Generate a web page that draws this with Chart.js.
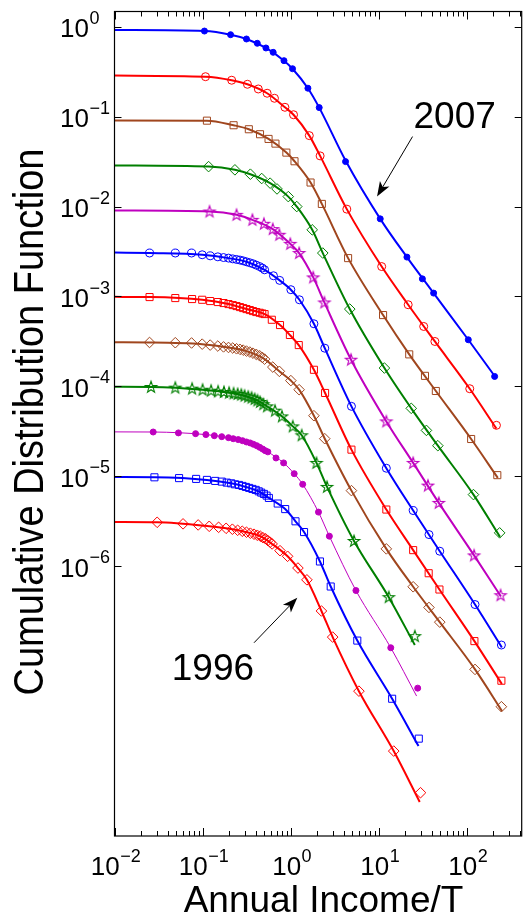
<!DOCTYPE html>
<html>
<head>
<meta charset="utf-8">
<script src="https://cdn.jsdelivr.net/npm/chart.js@4.4.1/dist/chart.umd.min.js"></script>
<style>
  html, body { margin: 0; padding: 0; background: #fff; }
  canvas { display: block; }
</style>
</head>
<body>
<canvas id="cdfChart" width="528" height="915"></canvas>
<script>
// income / T and CDF values, one set per year (top curve = 2007)
const income2007 = [0.105, 0.208, 0.315, 0.418, 0.524, 0.633, 0.84, 1.05, 1.57, 2.11, 4.2, 10.4, 20.9, 31.3, 42, 104, 207];
const cdf2007 = [0.895, 0.815, 0.73, 0.654, 0.58, 0.519, 0.419, 0.341, 0.207, 0.126, 0.0316, 0.0073, 0.00274, 0.00157, 0.00109, 0.00033, 0.000129];
const fitIncome2007 = [0.01, 0.105, 0.208, 0.315, 0.524, 0.84, 1.05, 1.57, 2.11, 4.2, 10.4, 20.9, 42, 104, 215];
const fitCdf2007 = [0.92, 0.895, 0.815, 0.73, 0.58, 0.419, 0.341, 0.207, 0.126, 0.0325, 0.0073, 0.00274, 0.00109, 0.00033, 0.000124];

const income2006 = [0.108, 0.214, 0.323, 0.429, 0.541, 0.655, 0.861, 1.078, 1.628, 2.16, 4.34, 10.8, 21.6, 32.4, 43.4, 108, 217];
const cdf2006 = [0.278, 0.254, 0.229, 0.203, 0.182, 0.16, 0.127, 0.105, 0.0615, 0.0366, 0.00936, 0.00215, 0.000809, 0.000464, 0.000316, 9.42e-5, 3.69e-5];
const fitIncome2006 = [0.01, 0.108, 0.214, 0.323, 0.541, 0.861, 1.078, 1.628, 2.16, 4.34, 10.8, 21.6, 43.4, 108, 217];
const fitCdf2006 = [0.286, 0.278, 0.254, 0.229, 0.182, 0.127, 0.105, 0.0615, 0.0366, 0.00936, 0.00215, 0.000809, 0.000316, 9.42e-5, 3.39e-5];

const income2005 = [0.112, 0.225, 0.335, 0.449, 0.561, 0.672, 0.894, 1.106, 1.683, 2.26, 4.49, 11.2, 22.2, 33.5, 44.5, 112, 222];
const cdf2005 = [0.0902, 0.0802, 0.0724, 0.0637, 0.0565, 0.0501, 0.0398, 0.0319, 0.0185, 0.0107, 0.00267, 0.000621, 0.000227, 0.000131, 8.89e-5, 2.6e-5, 1.03e-5];
const fitIncome2005 = [0.01, 0.112, 0.225, 0.335, 0.561, 0.894, 1.106, 1.683, 2.26, 4.49, 11.2, 22.2, 44.5, 112, 225];
const fitCdf2005 = [0.0905, 0.0902, 0.0802, 0.0724, 0.0565, 0.0398, 0.0319, 0.0185, 0.0107, 0.00267, 0.000621, 0.000227, 8.89e-5, 2.6e-5, 9.6e-6];

const income2004 = [0.117, 0.233, 0.349, 0.469, 0.585, 0.7, 0.94, 1.173, 1.758, 2.317, 4.69, 11.6, 23.4, 34.8, 46.9, 119, 236];
const cdf2004 = [0.0278, 0.0256, 0.0229, 0.0205, 0.0182, 0.0157, 0.0129, 0.01, 0.00551, 0.00304, 0.000724, 0.00016, 5.7e-5, 3.24e-5, 2.19e-5, 6.26e-6, 2.35e-6];
const fitIncome2004 = [0.01, 0.117, 0.233, 0.349, 0.585, 0.94, 1.173, 1.758, 2.317, 4.69, 11.6, 23.4, 46.9, 119, 238];
const fitCdf2004 = [0.0286, 0.0278, 0.0256, 0.0229, 0.0182, 0.0129, 0.01, 0.00551, 0.00304, 0.000724, 0.00016, 5.7e-5, 2.19e-5, 6.26e-6, 2.12e-6];

const income2003 = [0.12, 0.243, 0.368, 0.497, 0.627, 0.744, 0.99, 1.248, 1.805, 2.415, 4.85, 12.2, 24.6, 36.2, 48.1, 121, 242];
const cdf2003 = [0.0088, 0.00809, 0.00712, 0.00643, 0.00561, 0.00485, 0.00385, 0.00304, 0.00163, 0.000858, 0.000198, 4.08e-5, 1.41e-5, 7.88e-6, 5.06e-6, 1.32e-6, 4.76e-7];
const fitIncome2003 = [0.01, 0.12, 0.243, 0.368, 0.627, 0.99, 1.248, 1.805, 2.415, 4.85, 12.2, 24.6, 48.1, 121, 244];
const fitCdf2003 = [0.00903, 0.0088, 0.00809, 0.00712, 0.00561, 0.00385, 0.00304, 0.00163, 0.000858, 0.000198, 4.08e-5, 1.41e-5, 5.06e-6, 1.32e-6, 4.6e-7];

const income2002 = [0.025, 0.049, 0.075, 0.099, 0.122, 0.149, 0.173, 0.197, 0.22, 0.243, 0.266, 0.289, 0.315, 0.344, 0.374, 0.407, 0.445, 0.476, 0.506, 0.638, 0.751, 1.005, 1.258, 1.837, 2.44, 4.9, 12.2, 24.6, 37.2, 49.3, 124, 247];
const cdf2002 = [0.00304, 0.00304, 0.00304, 0.00291, 0.00283, 0.00276, 0.00271, 0.00267, 0.00262, 0.00258, 0.00254, 0.00249, 0.00243, 0.00237, 0.00231, 0.00223, 0.00215, 0.00207, 0.00198, 0.0017, 0.00151, 0.00119, 0.000919, 0.000497, 0.000266, 6e-5, 1.23e-5, 4.16e-6, 2.25e-6, 1.47e-6, 3.75e-7, 1.33e-7];
const fitIncome2002 = [0.01, 0.025, 0.099, 0.197, 0.315, 0.506, 0.751, 1.005, 1.258, 1.837, 2.44, 4.9, 12.2, 24.6, 49.3, 124, 250];
const fitCdf2002 = [0.00308, 0.00304, 0.00291, 0.00267, 0.00243, 0.00198, 0.00151, 0.00119, 0.000919, 0.000497, 0.000266, 6e-5, 1.23e-5, 4.16e-6, 1.47e-6, 3.75e-7, 1.25e-7];

const income2001 = [0.025, 0.049, 0.076, 0.099, 0.122, 0.149, 0.173, 0.197, 0.22, 0.243, 0.266, 0.289, 0.315, 0.344, 0.374, 0.407, 0.445, 0.476, 0.506, 0.611, 0.757, 0.98, 1.236, 1.837, 2.46, 4.9, 12.2, 24.6, 36.9, 48.9, 122, 247];
const cdf2001 = [0.000985, 0.00096, 0.000936, 0.000919, 0.000889, 0.000867, 0.000845, 0.000823, 0.000802, 0.000782, 0.000762, 0.000743, 0.000724, 0.000706, 0.000688, 0.000671, 0.000659, 0.000647, 0.000637, 0.000551, 0.000481, 0.000373, 0.000288, 0.000153, 8.45e-5, 1.98e-5, 4.27e-6, 1.51e-6, 8.36e-7, 5.51e-7, 1.47e-7, 5.33e-8];
const fitIncome2001 = [0.01, 0.025, 0.099, 0.197, 0.315, 0.506, 0.757, 0.98, 1.236, 1.837, 2.46, 4.9, 12.2, 24.6, 48.9, 122, 250];
const fitCdf2001 = [0.00099, 0.000985, 0.000919, 0.000823, 0.000724, 0.000637, 0.000481, 0.000373, 0.000288, 0.000153, 8.45e-5, 1.98e-5, 4.27e-6, 1.51e-6, 5.51e-7, 1.47e-7, 4.9e-8];

const income2000 = [0.025, 0.049, 0.075, 0.099, 0.122, 0.149, 0.173, 0.197, 0.22, 0.243, 0.266, 0.289, 0.315, 0.344, 0.374, 0.407, 0.445, 0.476, 0.506, 0.627, 0.744, 1.005, 1.248, 1.837, 2.44, 4.9, 12.2, 24.6, 37.2, 49.3, 124, 247];
const cdf2000 = [0.000308, 0.000306, 0.000304, 0.000295, 0.000288, 0.000281, 0.000275, 0.000271, 0.000267, 0.000262, 0.000258, 0.000253, 0.000247, 0.000241, 0.000234, 0.000227, 0.000219, 0.00021, 0.000201, 0.000164, 0.000147, 0.000116, 9.19e-5, 4.72e-5, 2.62e-5, 6.93e-6, 1.56e-6, 5.91e-7, 3.48e-7, 2.39e-7, 7.12e-8, 2.74e-8];
const fitIncome2000 = [0.01, 0.025, 0.099, 0.197, 0.315, 0.506, 0.744, 1.005, 1.248, 1.837, 2.44, 4.9, 12.2, 24.6, 49.3, 124, 251];
const fitCdf2000 = [0.000309, 0.000308, 0.000295, 0.000271, 0.000247, 0.000201, 0.000147, 0.000116, 9.19e-5, 4.72e-5, 2.62e-5, 6.93e-6, 1.56e-6, 5.91e-7, 2.39e-7, 7.12e-8, 2.45e-8];

const income1999 = [0.026, 0.049, 0.076, 0.1, 0.125, 0.15, 0.175, 0.2, 0.225, 0.25, 0.275, 0.3, 0.33, 0.36, 0.39, 0.42, 0.45, 0.49, 0.54, 0.665, 0.797, 1.058, 1.335, 1.965, 2.59, 5.24, 13, 25.7];
const cdf1999 = [9.85e-5, 9.68e-5, 9.43e-5, 9.19e-5, 8.96e-5, 8.8e-5, 8.67e-5, 8.51e-5, 8.36e-5, 8.24e-5, 8.09e-5, 7.88e-5, 7.68e-5, 7.49e-5, 7.24e-5, 6.99e-5, 6.71e-5, 6.34e-5, 6e-5, 5.37e-5, 4.64e-5, 3.59e-5, 2.86e-5, 1.41e-5, 7.62e-6, 1.91e-6, 4.53e-7, 1.67e-7];
const fitIncome1999 = [0.01, 0.026, 0.1, 0.2, 0.3, 0.42, 0.54, 0.797, 1.058, 1.335, 1.965, 2.59, 5.24, 13, 25.7];
const fitCdf1999 = [9.9e-5, 9.85e-5, 9.19e-5, 8.51e-5, 7.88e-5, 6.99e-5, 6e-5, 4.64e-5, 3.59e-5, 2.86e-5, 1.41e-5, 7.62e-6, 1.91e-6, 4.53e-7, 1.33e-7];

const income1998 = [0.0275, 0.0532, 0.0833, 0.109, 0.136, 0.165, 0.197, 0.223, 0.254, 0.284, 0.315, 0.347, 0.378, 0.412, 0.445, 0.481, 0.514, 0.551, 0.682, 0.832, 1.097, 1.37, 2.07, 2.75, 5.51, 13.7, 27.7];
const cdf1998 = [3.11e-5, 3.04e-5, 2.98e-5, 2.91e-5, 2.83e-5, 2.76e-5, 2.69e-5, 2.62e-5, 2.56e-5, 2.49e-5, 2.41e-5, 2.35e-5, 2.27e-5, 2.19e-5, 2.1e-5, 2.01e-5, 1.93e-5, 1.87e-5, 1.6e-5, 1.41e-5, 1.07e-5, 8.15e-6, 4e-6, 2.16e-6, 5.37e-7, 1.24e-7, 4.41e-8];
const fitIncome1998 = [0.01, 0.0275, 0.109, 0.197, 0.315, 0.445, 0.551, 0.832, 1.097, 1.37, 2.07, 2.75, 5.51, 13.7, 26.9];
const fitCdf1998 = [3.12e-5, 3.11e-5, 2.91e-5, 2.69e-5, 2.41e-5, 2.1e-5, 1.87e-5, 1.41e-5, 1.07e-5, 8.15e-6, 4e-6, 2.16e-6, 5.37e-7, 1.24e-7, 3.6e-8];

const income1997 = [0.0284, 0.0541, 0.0845, 0.112, 0.139, 0.165, 0.188, 0.211, 0.233, 0.259, 0.284, 0.31, 0.338, 0.368, 0.401, 0.434, 0.463, 0.497, 0.533, 0.566, 0.713, 0.867, 1.135, 1.419, 2.15, 2.85, 5.71, 14.2, 28.5];
const cdf1997 = [9.75e-6, 9.55e-6, 9.36e-6, 9.12e-6, 8.89e-6, 8.73e-6, 8.51e-6, 8.36e-6, 8.15e-6, 8.02e-6, 7.82e-6, 7.62e-6, 7.43e-6, 7.24e-6, 7.06e-6, 6.81e-6, 6.59e-6, 6.37e-6, 6.1e-6, 5.75e-6, 4.98e-6, 4.32e-6, 3.16e-6, 2.4e-6, 1.13e-6, 5.95e-7, 1.49e-7, 3.36e-8, 1.21e-8];
const fitIncome1997 = [0.01, 0.0284, 0.112, 0.211, 0.31, 0.434, 0.566, 0.867, 1.135, 1.419, 2.15, 2.85, 5.71, 14.2, 28.3];
const fitCdf1997 = [9.8e-6, 9.75e-6, 9.12e-6, 8.36e-6, 7.62e-6, 6.81e-6, 5.75e-6, 4.32e-6, 3.16e-6, 2.4e-6, 1.13e-6, 5.95e-7, 1.49e-7, 3.36e-8, 1e-8];

const income1996 = [0.0305, 0.06, 0.0891, 0.119, 0.152, 0.185, 0.218, 0.25, 0.282, 0.315, 0.349, 0.384, 0.418, 0.452, 0.484, 0.519, 0.551, 0.585, 0.616, 0.757, 0.923, 1.21, 1.53, 2.236, 3, 5.96, 14.8, 29.8];
const cdf1996 = [3.08e-6, 2.96e-6, 2.88e-6, 2.78e-6, 2.71e-6, 2.64e-6, 2.58e-6, 2.51e-6, 2.45e-6, 2.39e-6, 2.33e-6, 2.27e-6, 2.21e-6, 2.16e-6, 2.08e-6, 2.02e-6, 1.93e-6, 1.85e-6, 1.77e-6, 1.49e-6, 1.29e-6, 9.55e-7, 7.06e-7, 3.18e-7, 1.63e-7, 4.08e-8, 8.8e-9, 3.03e-9];
const fitIncome1996 = [0.01, 0.0305, 0.119, 0.218, 0.315, 0.452, 0.616, 0.923, 1.21, 1.53, 2.236, 3, 5.96, 14.8, 29.2];
const fitCdf1996 = [3.1e-6, 3.08e-6, 2.78e-6, 2.58e-6, 2.39e-6, 2.16e-6, 1.77e-6, 1.29e-6, 9.55e-7, 7.06e-7, 3.18e-7, 1.63e-7, 4.08e-8, 8.8e-9, 2.39e-9];

// tick exponents shown as 10^n
const xTickExps = [-2, -1, 0, 1, 2];
const yTickExps = [0, -1, -2, -3, -4, -5, -6];

const BLUE = "#0000ff", RED = "#ff0000", BROWN = "#a0461e", GREEN = "#007f00", MAGENTA = "#bf00bf";
const FONT = '"Liberation Sans", Arial, Helvetica, sans-serif';

function starImage(color) {
  const c = document.createElement("canvas");
  c.width = 16;
  c.height = 16;
  const g = c.getContext("2d");
  g.strokeStyle = color;
  g.lineWidth = 1.1;
  g.beginPath();
  for (let i = 0; i < 10; i++) {
    const r = i % 2 ? 2.4 : 6;
    const a = -Math.PI / 2 + (i * Math.PI) / 5;
    const px = 8 + r * Math.cos(a);
    const py = 8.3 + r * Math.sin(a);
    if (i) g.lineTo(px, py);
    else g.moveTo(px, py);
  }
  g.closePath();
  g.stroke();
  return c;
}

function points(xs, ys) {
  return xs.map((x, i) => ({ x, y: ys[i] }));
}

// [markers x, markers y, fit x, fit y, colour, marker, filled, line width]
const seriesList = [
  [income2007, cdf2007, fitIncome2007, fitCdf2007, BLUE, "circle", true, 2],
  [income2006, cdf2006, fitIncome2006, fitCdf2006, RED, "circle", false, 2],
  [income2005, cdf2005, fitIncome2005, fitCdf2005, BROWN, "rect", false, 2],
  [income2004, cdf2004, fitIncome2004, fitCdf2004, GREEN, "rectRot", false, 2],
  [income2003, cdf2003, fitIncome2003, fitCdf2003, MAGENTA, "star", false, 2],
  [income2002, cdf2002, fitIncome2002, fitCdf2002, BLUE, "circle", false, 2],
  [income2001, cdf2001, fitIncome2001, fitCdf2001, RED, "rect", false, 2],
  [income2000, cdf2000, fitIncome2000, fitCdf2000, BROWN, "rectRot", false, 2],
  [income1999, cdf1999, fitIncome1999, fitCdf1999, GREEN, "star", false, 2],
  [income1998, cdf1998, fitIncome1998, fitCdf1998, MAGENTA, "circle", true, 1],
  [income1997, cdf1997, fitIncome1997, fitCdf1997, BLUE, "rect", false, 2],
  [income1996, cdf1996, fitIncome1996, fitCdf1996, RED, "rectRot", false, 2],
];

const markerRadius = { circle: 4, rect: 5, rectRot: 5.3, star: 5 };

const datasets = [];
seriesList.forEach(([mx, my, fx, fy, color, marker, filled, lw]) => {
  datasets.push({
    data: points(fx, fy),
    showLine: true,
    borderColor: color,
    borderWidth: lw,
    pointRadius: 0,
    cubicInterpolationMode: "monotone",
    order: 2,
  });
  datasets.push({
    data: points(mx, my),
    showLine: false,
    pointStyle: marker === "star" ? starImage(color) : marker,
    pointRadius: filled ? 3 : markerRadius[marker],
    pointBorderWidth: 1,
    pointBorderColor: color,
    pointBackgroundColor: filled ? color : "rgba(0,0,0,0)",
    order: 1,
  });
});

// annotations in data units: [text, text x, text baseline y, arrow tail x, tail y, tip x, tip y]
const notes = [
  ["2007", 72.8, 0.0743, 24.2, 0.06, 9.57, 0.0129],
  ["1996", 0.131, 5.5e-8, 0.384, 1.41e-7, 1.19, 4.46e-7],
];

function drawPow(ctx, x, baseY, exp, align) {
  const base = "10";
  const sup = exp < 0 ? "\u2212" + Math.abs(exp) : String(exp);
  ctx.font = "26px " + FONT;
  const wb = ctx.measureText(base).width;
  ctx.font = "18px " + FONT;
  const ws = ctx.measureText(sup).width;
  const left = align === "center" ? x - (wb + ws) / 2 : x;
  ctx.font = "26px " + FONT;
  ctx.fillText(base, left, baseY);
  ctx.font = "18px " + FONT;
  ctx.fillText(sup, left + wb + 0.5, baseY - 13.5);
}

const axesPlugin = {
  id: "matlabAxes",
  beforeDraw(chart) {
    const { ctx } = chart;
    ctx.save();
    ctx.fillStyle = "#fff";
    ctx.fillRect(0, 0, chart.width, chart.height);
    ctx.restore();
  },
  afterDraw(chart) {
    const { ctx, chartArea: a, scales } = chart;
    const xs = scales.x, ys = scales.y;
    ctx.save();
    ctx.strokeStyle = "#000";
    ctx.lineWidth = 1;
    ctx.beginPath();
    // x ticks, major and minor, pointing inward from top and bottom
    for (let e = -2; e <= 2; e++) {
      for (let m = 1; m <= 9; m++) {
        const v = m * Math.pow(10, e);
        if (v > xs.max) break;
        const px = Math.round(xs.getPixelForValue(v)) + 0.5;
        const len = m === 1 ? 8 : 5;
        ctx.moveTo(px, a.bottom);
        ctx.lineTo(px, a.bottom - len);
        ctx.moveTo(px, a.top);
        ctx.lineTo(px, a.top + len);
      }
    }
    // y ticks at decades only
    yTickExps.forEach((e) => {
      const py = Math.round(ys.getPixelForValue(Math.pow(10, e))) + 0.5;
      ctx.moveTo(a.left, py);
      ctx.lineTo(a.left + 7, py);
      ctx.moveTo(a.right, py);
      ctx.lineTo(a.right - 7, py);
    });
    ctx.stroke();
    ctx.lineWidth = 1.2;
    ctx.strokeRect(a.left, a.top, a.right - a.left, a.bottom - a.top);

    // tick labels
    ctx.fillStyle = "#000";
    ctx.textBaseline = "alphabetic";
    ctx.textAlign = "left";
    xTickExps.forEach((e) => {
      drawPow(ctx, xs.getPixelForValue(Math.pow(10, e)) + 1, a.bottom + 39, e, "center");
    });
    yTickExps.forEach((e) => {
      drawPow(ctx, a.left - 54.5, ys.getPixelForValue(Math.pow(10, e)) + 10.6, e, "left");
    });

    // axis titles
    ctx.textAlign = "center";
    ctx.font = "37px " + FONT;
    ctx.fillText("Annual Income/T", 323.5, 911.5);
    ctx.save();
    ctx.translate(42.5, 422);
    ctx.rotate(-Math.PI / 2);
    ctx.scale(1, 1.1);
    ctx.font = "38px " + FONT;
    ctx.fillText("Cumulative Distribution Function", 0, 0);
    ctx.restore();

    // year labels with arrows
    notes.forEach(([text, tx, ty, ax, ay, bx, by]) => {
      ctx.font = "37px " + FONT;
      ctx.textAlign = "center";
      ctx.fillText(text, xs.getPixelForValue(tx), ys.getPixelForValue(ty));
      const x0 = xs.getPixelForValue(ax), y0 = ys.getPixelForValue(ay);
      const x1 = xs.getPixelForValue(bx), y1 = ys.getPixelForValue(by);
      const ang = Math.atan2(y1 - y0, x1 - x0);
      const L = 15, W = 5.5;
      const cos = Math.cos(ang), sin = Math.sin(ang);
      const nx = x1 - cos * L * 0.75, ny = y1 - sin * L * 0.75;
      ctx.lineWidth = 1;
      ctx.beginPath();
      ctx.moveTo(x0, y0);
      ctx.lineTo(nx, ny);
      ctx.stroke();
      ctx.beginPath();
      ctx.moveTo(x1, y1);
      ctx.lineTo(x1 - cos * L - sin * W, y1 - sin * L + cos * W);
      ctx.lineTo(nx, ny);
      ctx.lineTo(x1 - cos * L + sin * W, y1 - sin * L - cos * W);
      ctx.closePath();
      ctx.fill();
    });
    ctx.restore();
  },
};

new Chart(document.getElementById("cdfChart"), {
  type: "scatter",
  data: { datasets },
  options: {
    responsive: false,
    animation: false,
    events: [],
    layout: { padding: { left: 114.5, right: 0.5, top: 11.5, bottom: 79 } },
    plugins: { legend: { display: false }, tooltip: { enabled: false } },
    scales: {
      x: { type: "logarithmic", min: 0.01, max: 420, bounds: "data", display: false },
      y: { type: "logarithmic", min: 1e-9, max: 1.476, bounds: "data", display: false },
    },
  },
  plugins: [axesPlugin],
});
</script>
</body>
</html>
